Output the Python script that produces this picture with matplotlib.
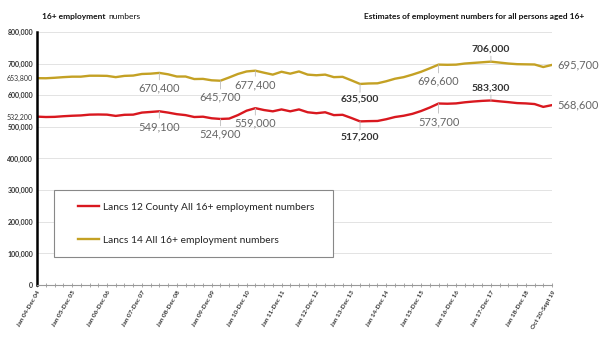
import numpy as np
import matplotlib.pyplot as plt
from matplotlib.patches import Rectangle

plt.rcParams['font.family'] = ['Lato', 'DejaVu Sans']

# rolling annual periods, quarterly from Jan 04-Dec 04 to Oct 18-Sept 19
period_labels = ['Jan 04-Dec 04', 'Jan 05-Dec 05', 'Jan 06-Dec 06', 'Jan 07-Dec 07',
                 'Jan 08-Dec 08', 'Jan 09-Dec 09', 'Jan 10-Dec 10', 'Jan 11-Dec 11',
                 'Jan 12-Dec 12', 'Jan 13-Dec 13', 'Jan 14-Dec 14', 'Jan 15-Dec 15',
                 'Jan 16-Dec 16', 'Jan 17-Dec 17', 'Jan 18-Dec 18', 'Oct 20-Sept 19']
label_idx = [0, 4, 8, 12, 16, 20, 24, 28, 32, 36, 40, 44, 48, 52, 56, 59]

lancs12 = [532200, 531000, 531500, 533500, 535000, 536000, 538500, 539000, 538500, 534500,
           538000, 538500, 545000, 547000, 549100, 545000, 540000, 537000, 531000, 532000,
           527000, 524900, 526000, 537000, 551000, 559000, 553000, 549000, 555000, 549000,
           555000, 546000, 543000, 546000, 537000, 538000, 528000, 517200, 518000, 518500,
           524000, 531000, 535000, 541000, 550000, 561000, 573700, 573000, 574000, 577500,
           580000, 582000, 583300, 580500, 578000, 575000, 574000, 572000, 563000, 568600]

lancs14 = [653800, 653500, 655000, 657000, 658500, 658500, 661500, 661500, 661000, 657000,
           661000, 662000, 667000, 668000, 670400, 666000, 659000, 659000, 651000, 651500,
           647000, 645700, 656000, 667000, 675000, 677400, 671000, 665000, 674000, 668000,
           675000, 665000, 663000, 665000, 657000, 658000, 647000, 635500, 637000, 637500,
           644000, 652000, 657000, 665000, 674000, 685000, 696600, 696000, 696500, 700000,
           702000, 704000, 706000, 703000, 700000, 698000, 697500, 697000, 689000, 695700]

# labelled points: (index, dy in points, bold)
notes12 = [(14, -7, False), (21, -7, False), (25, -7, False), (37, -8, True),
           (46, -9, False), (52, 6, True)]
notes14 = [(14, -7, False), (21, -8, False), (25, -6, False), (37, -8, True),
           (46, -8, False), (52, 6, True)]

red = '#D9181F'
gold = '#C4A124'

fig = plt.figure(figsize=(6, 3.43), dpi=100)
ax = fig.add_axes([0.062, 0.169, 0.858, 0.738])

x = np.arange(len(lancs12))
ax.plot(x, lancs12, color=red, lw=1.7, label='Lancs 12 County All 16+ employment numbers')
ax.plot(x, lancs14, color=gold, lw=1.7, label='Lancs 14 All 16+ employment numbers')

ax.set_xlim(0, len(x) - 1)
ax.set_ylim(0, 800000)

for v in range(100000, 800001, 100000):
    ax.axhline(v, color='#E3E3E3', lw=0.7, zorder=0)

main_ticks = list(range(0, 800001, 100000))
extra_ticks = [lancs12[0], lancs14[0]]
ax.set_yticks(main_ticks + extra_ticks)
ax.set_yticklabels([f'{v:,}' for v in main_ticks + extra_ticks])
for lab in ax.get_yticklabels():
    lab.set_fontsize(5)
    lab.set_color('#333333')
    if int(lab.get_text().replace(',', '')) in main_ticks:
        lab.set_fontweight('bold')
ax.tick_params(axis='y', length=0, pad=3)

ax.set_xticks(label_idx)
ax.set_xticklabels(period_labels, rotation=60, ha='right', va='top',
                   rotation_mode='anchor', fontsize=4.6, fontweight='bold', color='#333333')
ax.set_xticks(x, minor=True)
ax.tick_params(axis='x', which='both', direction='inout', length=3, width=0.6,
               color='#999999', pad=2)

for s in ['top', 'right']:
    ax.spines[s].set_visible(False)
ax.spines['left'].set_linewidth(1.8)
ax.spines['left'].set_color('black')
ax.spines['bottom'].set_color('#999999')
ax.spines['bottom'].set_linewidth(0.8)

def label_points(series, notes):
    for i, dy, bold in notes:
        ax.annotate(f'{series[i]:,}', xy=(i, series[i]), xytext=(0, dy),
                    textcoords='offset points', ha='center',
                    va='bottom' if dy > 0 else 'top',
                    fontsize=8 if not bold else 7.5,
                    fontweight='bold' if bold else 'normal',
                    color='#333333' if bold else '#666666',
                    arrowprops=dict(arrowstyle='-', color='#BBBBBB', lw=0.6,
                                    shrinkA=0, shrinkB=0))

label_points(lancs12, notes12)
label_points(lancs14, notes14)

for series in (lancs12, lancs14):
    ax.annotate(f'{series[-1]:,}', xy=(x[-1], series[-1]), xytext=(4, 0),
                textcoords='offset points', ha='left', va='center',
                fontsize=8, color='#666666', annotation_clip=False)

# legend sits in a plain box over the lower left of the plot
ax.add_patch(Rectangle((0.09, 0.2507), 0.465, 0.195, transform=fig.transFigure,
                       facecolor='white', edgecolor='#888888', lw=0.8, zorder=5,
                       clip_on=False))
leg = ax.legend(loc='center left', bbox_to_anchor=(0.122, 0.348),
                bbox_transform=fig.transFigure, frameon=False, fontsize=7.4,
                handlelength=2.0, handletextpad=0.4, labelspacing=2.3, borderpad=0,
                labelcolor='#222222')
leg.set_zorder(6)

head = fig.text(0.07, 0.945, '16+ employment', fontsize=6, fontweight='bold', color='#111111')
ax.annotate('numbers', xy=(1, 0), xycoords=head, xytext=(2, 0), textcoords='offset points',
            fontsize=6, color='#111111', va='bottom', ha='left')
fig.text(0.973, 0.945, 'Estimates of employment numbers for all persons aged 16+',
         fontsize=6, fontweight='bold', color='#111111', ha='right')

fig.savefig('out.png', dpi=100)
